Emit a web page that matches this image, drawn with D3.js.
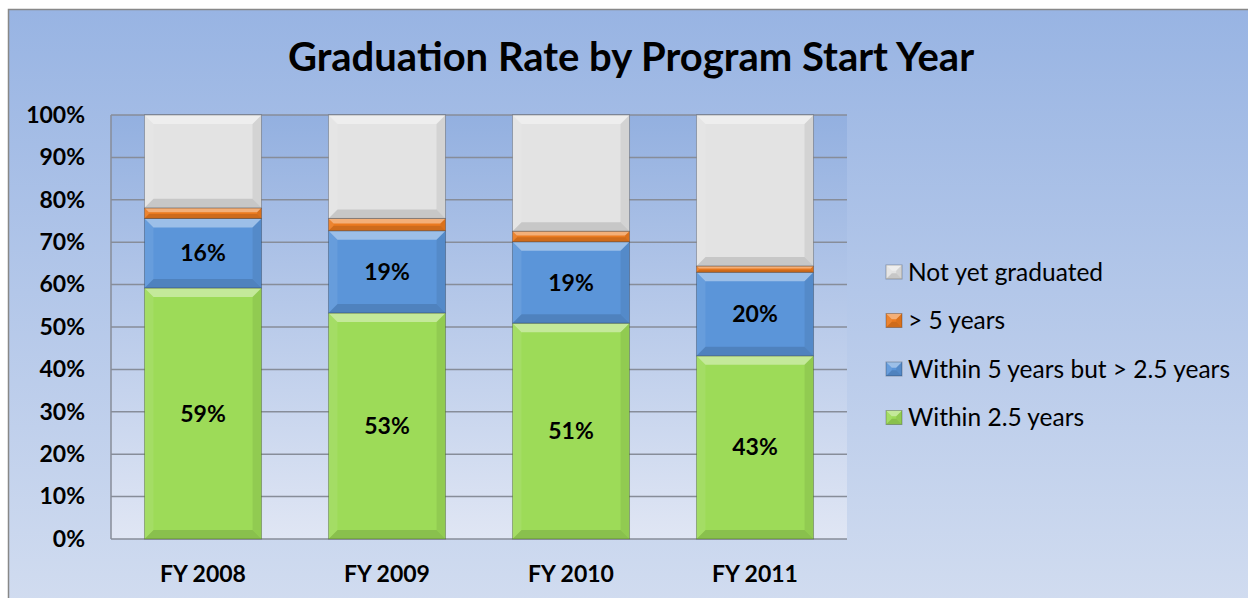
<!DOCTYPE html>
<html>
<head>
<meta charset="utf-8">
<title>Graduation Rate by Program Start Year</title>
<script src="https://d3js.org/d3.v7.min.js"></script>
<style>
  body { margin: 0; background: #ffffff; }
  svg { display: block; font-family: Lato, "Open Sans", sans-serif; }
</style>
</head>
<body>
<svg id="chart" width="1248" height="598"></svg>
<script>
// data (percent of starters)
var years = ["FY 2008", "FY 2009", "FY 2010", "FY 2011"];
var within25 = [59.2, 53.3, 50.9, 43.2];
var within5 = [16.4, 19.4, 19.2, 19.7];
var over5 = [2.5, 2.9, 2.5, 1.5];
var notYet = [21.9, 24.4, 27.4, 35.6];
var yTicks = [0, 10, 20, 30, 40, 50, 60, 70, 80, 90, 100];

var seriesNames = ["Within 2.5 years", "Within 5 years but > 2.5 years", "> 5 years", "Not yet graduated"];
var seriesColors = ["#9ddb58", "#5b95d9", "#eb7a1f", "#e3e3e3"];
var seriesValues = [within25, within5, over5, notYet];
var showLabel = [true, true, false, false];

var svg = d3.select("#chart");
var defs = svg.append("defs");

// outer chart background
var bg = defs.append("linearGradient").attr("id", "bg").attr("x1", 0).attr("x2", 0).attr("y1", 0).attr("y2", 1);
bg.append("stop").attr("offset", "0%").attr("stop-color", "#98b4e3");
bg.append("stop").attr("offset", "100%").attr("stop-color", "#dbe3f2");

var pa = defs.append("linearGradient").attr("id", "pa").attr("x1", 0).attr("x2", 0).attr("y1", 0).attr("y2", 1);
pa.append("stop").attr("offset", "0%").attr("stop-color", "#93b0e0");
pa.append("stop").attr("offset", "100%").attr("stop-color", "#e0e6f4");

svg.append("rect")
  .attr("x", 8.5).attr("y", 9.5)
  .attr("width", 1300).attr("height", 700)
  .attr("fill", "url(#bg)")
  .attr("stroke", "#888").attr("stroke-width", 1.5);

var margin = {left: 111, top: 115, right: 847, bottom: 539};

var x = d3.scaleBand()
  .domain(years)
  .range([margin.left, margin.right])
  .paddingInner(0.364)
  .paddingOuter(0.182);

var y = d3.scaleLinear()
  .domain([0, 100])
  .range([margin.bottom, margin.top]);

// plot area
svg.append("rect")
  .attr("x", margin.left).attr("y", margin.top)
  .attr("width", margin.right - margin.left)
  .attr("height", margin.bottom - margin.top)
  .attr("fill", "url(#pa)");

// gridlines
svg.append("g")
  .selectAll("line")
  .data(yTicks)
  .enter().append("line")
  .attr("x1", margin.left).attr("x2", margin.right)
  .attr("y1", function(d){ return y(d); })
  .attr("y2", function(d){ return y(d); })
  .attr("stroke", "#878d99").attr("stroke-width", 1.5);

// left axis line
svg.append("line")
  .attr("x1", margin.left).attr("x2", margin.left)
  .attr("y1", margin.top).attr("y2", margin.bottom)
  .attr("stroke", "#878d99").attr("stroke-width", 1.5);

// y axis labels
var yAxis = d3.axisLeft(y).tickValues(yTicks).tickSize(0).tickPadding(26)
  .tickFormat(function(d){ return d + "%"; });
var ya = svg.append("g").attr("transform", "translate(" + margin.left + ",0)").call(yAxis);
ya.select(".domain").remove();
ya.selectAll("text")
  .attr("font-family", "Lato, sans-serif")
  .attr("font-size", 23).attr("font-weight", "bold").attr("fill", "#000");

// x axis labels
var xAxis = d3.axisBottom(x).tickSize(0).tickPadding(27);
var xa = svg.append("g").attr("transform", "translate(0," + margin.bottom + ")").call(xAxis);
xa.select(".domain").remove();
xa.selectAll("text")
  .attr("font-family", "Lato, sans-serif")
  .attr("font-size", 23).attr("font-weight", "bold").attr("fill", "#000");

// stacking
var rows = years.map(function(yr, i) {
  var o = {year: yr};
  seriesNames.forEach(function(s, k){ o[s] = seriesValues[k][i]; });
  return o;
});
var stack = d3.stack().keys(seriesNames)(rows);

// bevelled segment
function bevel(g, x0, y0, w, h, color) {
  var b = Math.min(9, h / 2.4, w / 2.4);
  g.append("rect").attr("x", x0).attr("y", y0).attr("width", w).attr("height", h).attr("fill", color);
  var x1 = x0 + w, y1 = y0 + h;
  var faces = [
    {pts: [[x0,y0],[x1,y0],[x1-b,y0+b],[x0+b,y0+b]], c: "#fff", o: 0.4},
    {pts: [[x0,y0],[x0+b,y0+b],[x0+b,y1-b],[x0,y1]], c: "#fff", o: 0.08},
    {pts: [[x1,y0],[x1,y1],[x1-b,y1-b],[x1-b,y0+b]], c: "#000", o: 0.07},
    {pts: [[x0,y1],[x0+b,y1-b],[x1-b,y1-b],[x1,y1]], c: "#000", o: 0.12}
  ];
  faces.forEach(function(f){
    g.append("polygon")
      .attr("points", f.pts.map(function(p){ return p.join(","); }).join(" "))
      .attr("fill", f.c).attr("fill-opacity", f.o);
  });
  g.append("rect").attr("x", x0).attr("y", y0).attr("width", w).attr("height", h)
    .attr("fill", "none").attr("stroke", "#000").attr("stroke-opacity", 0.25).attr("stroke-width", 1);
}

var bars = svg.append("g");
stack.forEach(function(layer, k) {
  layer.forEach(function(d, i) {
    var x0 = x(years[i]), w = x.bandwidth();
    var top = y(d[1]), h = y(d[0]) - y(d[1]);
    bevel(bars, x0, top, w, h, seriesColors[k]);
  });
});

// bar labels
stack.forEach(function(layer, k) {
  if (!showLabel[k]) return;
  svg.append("g").selectAll("text")
    .data(layer)
    .enter().append("text")
    .attr("x", function(d){ return x(d.data.year) + x.bandwidth() / 2; })
    .attr("y", function(d){ return (y(d[0]) + y(d[1])) / 2; })
    .attr("dy", "0.35em")
    .attr("text-anchor", "middle")
    .attr("font-size", 23).attr("font-weight", "bold")
    .text(function(d){ return Math.round(d[1] - d[0]) + "%"; });
});

// title
svg.append("text")
  .attr("x", 631).attr("y", 71)
  .attr("text-anchor", "middle")
  .attr("font-size", 40).attr("font-weight", "bold")
  .text("Graduation Rate by Program Start Year");

// legend (top entry is the top of the stack)
var legendOrder = [3, 2, 1, 0];
var lg = svg.append("g").selectAll("g")
  .data(legendOrder)
  .enter().append("g")
  .attr("transform", function(d, i){ return "translate(886," + (272 + i * 48.5) + ")"; });

lg.each(function(k) {
  bevel(d3.select(this), 0, -7, 16, 14, seriesColors[k]);
});
lg.append("text")
  .attr("x", 22).attr("dy", "0.35em")
  .attr("font-size", 24.5)
  .text(function(k){ return seriesNames[k]; });
</script>
</body>
</html>
